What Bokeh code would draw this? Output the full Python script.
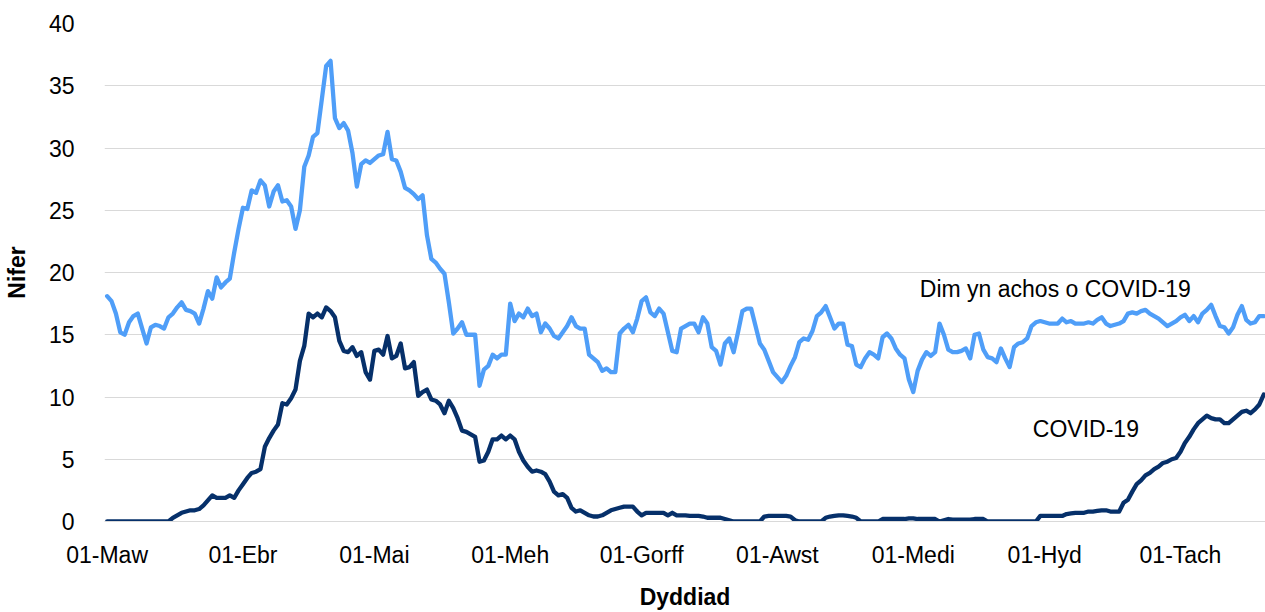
import pandas as pd
from bokeh.plotting import figure
from bokeh.models import Range1d, FixedTicker, Label
from bokeh.embed import file_html
from bokeh.resources import INLINE

start_date = "2020-03-01"

non_covid = [
    18.1, 17.7, 16.7, 15.2, 15.0, 16.0, 16.5, 16.7, 15.5, 14.3,
    15.6, 15.8, 15.7, 15.5, 16.4, 16.7, 17.2, 17.6, 17.0, 16.9,
    16.7, 15.9, 17.1, 18.5, 17.9, 19.6, 18.8, 19.2, 19.5, 21.6,
    23.5, 25.2, 25.1, 26.6, 26.4, 27.4, 27.0, 25.3, 26.5, 27.0,
    25.7, 25.8, 25.3, 23.5, 25.0, 28.5, 29.4, 30.9, 31.2, 33.9,
    36.6, 37.0, 32.4, 31.6, 32.0, 31.4, 29.6, 26.9, 28.7, 29.0,
    28.8, 29.1, 29.4, 29.5, 31.3, 29.1, 29.0, 28.1, 26.8, 26.6,
    26.3, 25.9, 26.2, 23.0, 21.1, 20.8, 20.3, 19.9, 17.6, 15.1,
    15.5, 16.0, 15.0, 15.0, 15.0, 10.9, 12.2, 12.5, 13.4, 13.1,
    13.4, 13.4, 17.5, 16.1, 16.7, 16.4, 17.1, 16.5, 16.7, 15.2,
    15.9, 15.5, 14.9, 14.7, 15.2, 15.7, 16.4, 15.7, 15.5, 15.5,
    13.4, 13.1, 12.8, 12.1, 12.3, 12.0, 12.0, 15.1, 15.5, 15.8,
    15.2, 16.3, 17.7, 18.0, 16.8, 16.5, 17.1, 16.7, 15.2, 13.7,
    13.6, 15.5, 15.7, 15.9, 15.9, 15.2, 16.4, 15.9, 14.0, 13.7,
    12.6, 14.3, 14.7, 13.6, 15.2, 16.9, 17.1, 17.1, 15.7, 14.3,
    13.8, 12.9, 12.0, 11.6, 11.2, 11.7, 12.5, 13.2, 14.4, 14.7,
    14.6, 15.3, 16.5, 16.8, 17.3, 16.4, 15.5, 15.9, 15.9, 14.2,
    14.1, 12.6, 12.4, 13.1, 13.6, 13.4, 13.1, 14.8, 15.1, 14.7,
    13.9, 13.4, 13.1, 11.4, 10.4, 12.1, 13.0, 13.6, 13.3, 13.6,
    15.9, 15.0, 13.8, 13.6, 13.6, 13.7, 13.9, 13.1, 15.0, 15.1,
    13.8, 13.2, 13.1, 12.8, 13.9, 13.1, 12.4, 14.0, 14.3, 14.4,
    14.7, 15.7, 16.0, 16.1, 16.0, 15.9, 15.9, 15.9, 16.3, 16.0,
    16.1, 15.9, 15.9, 15.9, 16.0, 15.9, 16.2, 16.4, 15.9, 15.7,
    15.8, 15.9, 16.1, 16.7, 16.8, 16.7, 16.9, 17.0, 16.7, 16.5,
    16.3, 16.0, 15.7, 15.9, 16.1, 16.4, 16.6, 16.1, 16.5, 16.0,
    16.7, 17.0, 17.4, 16.5, 15.7, 15.6, 15.1, 15.6, 16.6, 17.3,
    16.2, 15.9, 16.0, 16.5, 16.5,
]

covid = [
    0, 0, 0, 0, 0, 0, 0, 0, 0, 0,
    0, 0, 0, 0, 0, 0.3, 0.5, 0.7, 0.8, 0.9,
    0.9, 1.0, 1.3, 1.7, 2.1, 1.9, 1.9, 1.9, 2.1, 1.9,
    2.5, 3.0, 3.5, 3.9, 4.0, 4.2, 6.0, 6.7, 7.3, 7.8,
    9.5, 9.4, 9.9, 10.6, 12.9, 14.1, 16.7, 16.4, 16.7, 16.4,
    17.2, 16.9, 16.4, 14.5, 13.7, 13.6, 14.0, 13.3, 13.6, 12.0,
    11.4, 13.7, 13.8, 13.4, 14.9, 13.1, 13.3, 14.3, 12.3, 12.4,
    12.8, 10.1, 10.4, 10.6, 9.8, 9.7, 9.4, 8.7, 9.7, 9.1,
    8.3, 7.3, 7.2, 7.0, 6.8, 4.8, 4.9, 5.6, 6.6, 6.6,
    6.9, 6.6, 6.9, 6.6, 5.6, 4.9, 4.4, 4.0, 4.1, 4.0,
    3.8, 3.2, 2.4, 2.1, 2.2, 1.9, 1.1, 0.8, 0.9, 0.7,
    0.5, 0.4, 0.4, 0.5, 0.7, 0.9, 1.0, 1.1, 1.2, 1.2,
    1.2, 0.8, 0.5, 0.7, 0.7, 0.7, 0.7, 0.7, 0.5, 0.7,
    0.5, 0.5, 0.5, 0.45, 0.45, 0.45, 0.4, 0.3, 0.3, 0.3,
    0.3, 0.2, 0.1, 0, 0, 0, 0, 0, 0, 0,
    0.4, 0.45, 0.45, 0.45, 0.45, 0.45, 0.4, 0.1, 0, 0,
    0, 0, 0, 0, 0.3, 0.4, 0.45, 0.5, 0.5, 0.45,
    0.4, 0.3, 0, 0, 0, 0, 0, 0.2, 0.2, 0.2,
    0.2, 0.2, 0.2, 0.25, 0.25, 0.2, 0.2, 0.2, 0.2, 0.2,
    0, 0.1, 0.2, 0.15, 0.15, 0.15, 0.15, 0.15, 0.2, 0.2,
    0.2, 0, 0, 0, 0, 0, 0, 0, 0, 0,
    0, 0, 0, 0.45, 0.45, 0.45, 0.45, 0.45, 0.45, 0.6,
    0.65, 0.7, 0.7, 0.7, 0.8, 0.8, 0.85, 0.9, 0.9, 0.8,
    0.8, 0.8, 1.5, 1.75, 2.4, 3.0, 3.3, 3.7, 3.9, 4.2,
    4.4, 4.7, 4.8, 5.0, 5.1, 5.6, 6.3, 6.8, 7.4, 7.9,
    8.2, 8.5, 8.3, 8.2, 8.2, 7.9, 7.9, 8.2, 8.5, 8.8,
    8.9, 8.7, 9.0, 9.4, 10.2,
]

tick_dates = ["2020-03-01", "2020-04-01", "2020-05-01", "2020-06-01", "2020-07-01",
              "2020-08-01", "2020-09-01", "2020-10-01", "2020-11-01"]
tick_labels = ["01-Maw", "01-Ebr", "01-Mai", "01-Meh", "01-Gorff",
               "01-Awst", "01-Medi", "01-Hyd", "01-Tach"]

series_labels = ["Dim yn achos o COVID-19", "COVID-19"]
y_ticks = [0, 5, 10, 15, 20, 25, 30, 35, 40]

t0 = pd.Timestamp(start_date)
dates = pd.date_range(start_date, periods=len(covid), freq="D")
x = [(d - t0).days for d in dates]
tick_pos = [(pd.Timestamp(d) - t0).days for d in tick_dates]

FONT = "Liberation Sans"
LIGHT = "#4F9EF8"
DARK = "#06306A"

p = figure(width=1265, height=612, output_backend="svg", toolbar_location=None,
           x_range=Range1d(-0.6, x[-1] + 0.4), y_range=Range1d(0, 40),
           min_border_left=100, min_border_right=0, min_border_top=23, min_border_bottom=90)
p.outline_line_color = None
p.background_fill_color = "white"
p.border_fill_color = "white"

p.line(x, non_covid, line_color=LIGHT, line_width=4.3, line_join="round", line_cap="round")
p.line(x, covid, line_color=DARK, line_width=4.3, line_join="round", line_cap="round")

p.xgrid.grid_line_color = None
p.ygrid.grid_line_color = "#D9D9D9"
p.ygrid.grid_line_width = 1
p.yaxis.ticker = FixedTicker(ticks=y_ticks)
p.xaxis.ticker = FixedTicker(ticks=tick_pos)
p.xaxis.major_label_overrides = {t: l for t, l in zip(tick_pos, tick_labels)}

for ax in (p.xaxis[0], p.yaxis[0]):
    ax.major_tick_line_color = None
    ax.minor_tick_line_color = None
    ax.major_label_text_font = FONT
    ax.major_label_text_font_size = "23px"
    ax.major_label_text_color = "#000000"
    ax.axis_label_text_font = FONT
    ax.axis_label_text_font_size = "23px"
    ax.axis_label_text_font_style = "bold"
    ax.axis_label_text_color = "#000000"

p.yaxis.axis_line_color = None
p.xaxis.axis_line_color = "#D9D9D9"
p.yaxis.major_label_standoff = 24
p.xaxis.major_label_standoff = 14
p.yaxis.axis_label = "Nifer"
p.xaxis.axis_label = "Dyddiad"
p.yaxis.axis_label_standoff = 16
p.xaxis.axis_label_standoff = 13

p.add_layout(Label(x=185.5, y=18.7, text=series_labels[0], text_font=FONT,
                   text_font_size="23px", text_color="#000000", text_baseline="middle"))
p.add_layout(Label(x=211.3, y=7.4, text=series_labels[1], text_font=FONT,
                   text_font_size="23px", text_color="#000000", text_baseline="middle"))

open("out.html", "w").write(file_html(p, INLINE))
